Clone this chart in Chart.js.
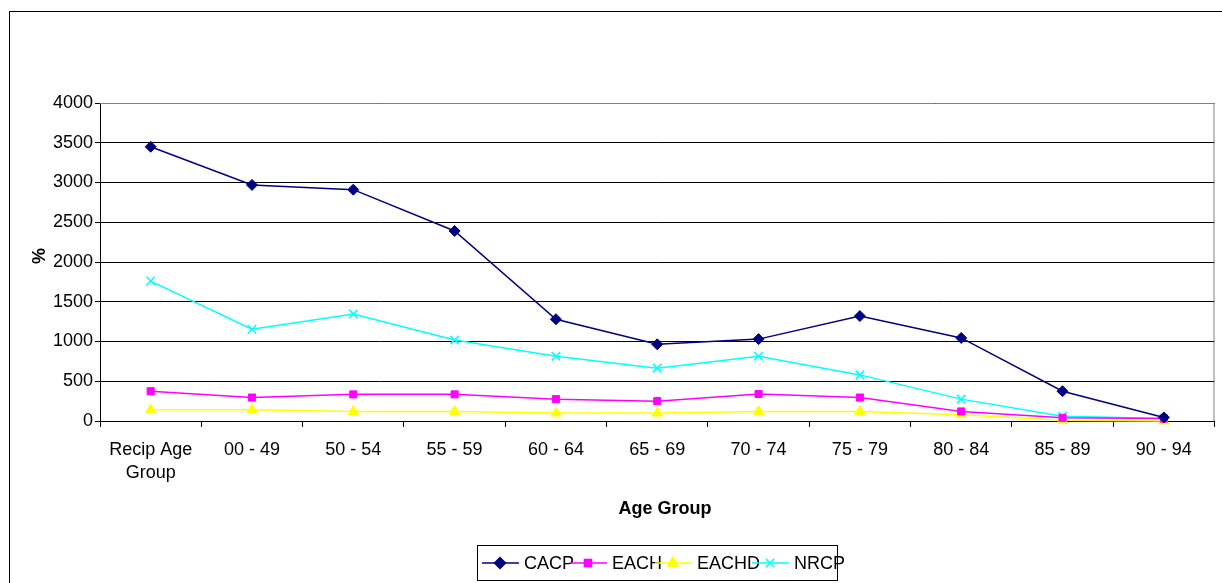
<!DOCTYPE html>
<html>
<head>
<meta charset="utf-8">
<script src="https://cdn.jsdelivr.net/npm/chart.js@4"></script>
<style>
  html, body { margin: 0; padding: 0; background: #fff; overflow: hidden; }
  #wrap { width: 1222px; height: 583px; position: relative; }
</style>
</head>
<body>
<div id="wrap"><canvas id="chart"></canvas></div>
<script>
// categories and series
const ageGroups = [['Recip Age', 'Group'], '00 - 49', '50 - 54', '55 - 59', '60 - 64', '65 - 69', '70 - 74', '75 - 79', '80 - 84', '85 - 89', '90 - 94'];
const cacp  = [3450, 2970, 2910, 2390, 1280, 965, 1030, 1320, 1045, 375, 45];
const each  = [375, 295, 335, 335, 275, 250, 340, 295, 120, 40, 30];
const eachd = [140, 140, 120, 120, 100, 100, 120, 120, 80, 10, 0];
const nrcp  = [1760, 1155, 1345, 1020, 815, 665, 815, 580, 275, 60, 30];
const yTicks = [0, 500, 1000, 1500, 2000, 2500, 3000, 3500, 4000];

const FONT = 'Arial, "Liberation Sans", sans-serif';

const seriesStyle = [
    { label: 'CACP',  data: cacp,  color: '#000080', point: 'rectRot',  radius: 5.5 },
    { label: 'EACH',  data: each,  color: '#FF00FF', point: 'rect',     radius: 5 },
    { label: 'EACHD', data: eachd, color: '#FFFF00', point: 'triangle', radius: 6 },
    { label: 'NRCP',  data: nrcp,  color: '#00FFFF', point: 'crossRot', radius: 6 }
];

// frame, axis titles and the excel-like legend
const decorations = {
    id: 'decorations',
    afterDraw(chart) {
        const ctx = chart.ctx;
        const a = chart.chartArea;
        ctx.save();

        // plot area border (top / right, grey)
        ctx.strokeStyle = '#808080';
        ctx.lineWidth = 1;
        ctx.beginPath();
        ctx.moveTo(a.left, a.top + 0.5);
        ctx.lineTo(a.right - 0.5, a.top + 0.5);
        ctx.lineTo(a.right - 0.5, a.bottom);
        ctx.stroke();

        // outer chart frame
        ctx.strokeStyle = '#000';
        ctx.strokeRect(9.5, 11.5, 1400, 800);

        // axis titles
        ctx.fillStyle = '#000';
        ctx.font = 'bold 18px ' + FONT;
        ctx.textAlign = 'center';
        ctx.textBaseline = 'middle';
        ctx.fillText('Age Group', 665, 509);
        ctx.save();
        ctx.translate(40, 256);
        ctx.rotate(-Math.PI / 2);
        ctx.fillText('%', 0, 0);
        ctx.restore();

        // legend
        ctx.strokeStyle = '#000';
        ctx.lineWidth = 1;
        ctx.strokeRect(477.5, 545.5, 360, 35);
        const starts = [482, 570, 655, 752];
        ctx.font = '18px ' + FONT;
        ctx.textAlign = 'left';
        seriesStyle.forEach((s, i) => {
            const x0 = starts[i], y = 563;
            ctx.strokeStyle = s.color;
            ctx.fillStyle = s.color;
            ctx.lineWidth = 1.5;
            ctx.beginPath();
            ctx.moveTo(x0, y);
            ctx.lineTo(x0 + 37, y);
            ctx.stroke();
            Chart.helpers.drawPoint(ctx, {
                pointStyle: s.point, radius: s.radius, rotation: 0, borderWidth: s.point === 'crossRot' ? 1.5 : 1
            }, x0 + 18, y);
            ctx.fillStyle = '#000';
            ctx.fillText(s.label, x0 + 42, y + 1);
        });
        ctx.restore();
    }
};

const datasets = seriesStyle.map(s => ({
    label: s.label,
    data: s.data,
    borderColor: s.color,
    backgroundColor: s.color,
    borderWidth: 1.5,
    pointStyle: s.point,
    pointRadius: s.radius,
    pointHoverRadius: s.radius,
    pointBorderWidth: s.point === 'crossRot' ? 1.5 : 1,
    pointBorderColor: s.color,
    pointBackgroundColor: s.color,
    tension: 0,
    clip: false
}));

new Chart(document.getElementById('chart'), {
    type: 'line',
    data: { labels: ageGroups, datasets },
    options: {
        responsive: true,
        maintainAspectRatio: false,
        animation: false,
        devicePixelRatio: 1,
        layout: { padding: { left: 0, top: 103, right: 6, bottom: 0 } },
        plugins: {
            legend: { display: false },
            tooltip: { enabled: false }
        },
        scales: {
            x: {
                offset: true,
                grid: { offset: true, drawOnChartArea: false, drawTicks: true, tickLength: 6, color: '#000' },
                border: { color: '#000', width: 1 },
                ticks: { color: '#000', font: { family: FONT, size: 18, lineHeight: 1.3 }, padding: 11, maxRotation: 0, autoSkip: false },
                afterFit(scale) { scale.height = 162; }
            },
            y: {
                min: 0,
                max: 4000,
                afterBuildTicks(scale) { scale.ticks = yTicks.map(v => ({ value: v })); },
                grid: { color: '#000', tickLength: 5, lineWidth: 1 },
                border: { color: '#000', width: 1 },
                ticks: { color: '#000', font: { family: FONT, size: 18 }, padding: 2, callback: v => String(v) },
                afterFit(scale) { scale.width = 100; }
            }
        }
    },
    plugins: [decorations]
});
</script>
</body>
</html>
